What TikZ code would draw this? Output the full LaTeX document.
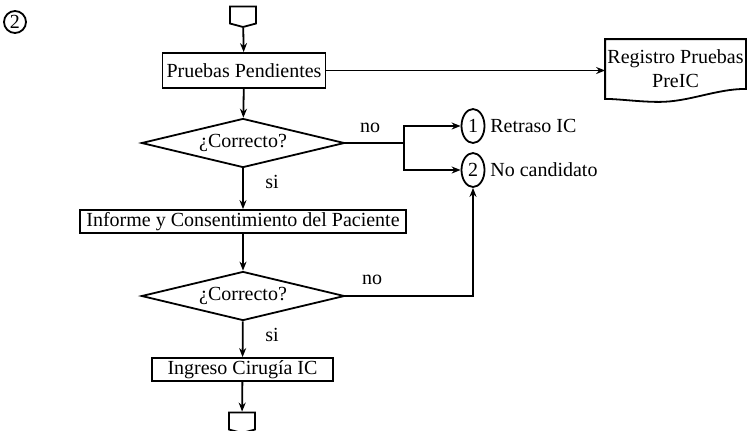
\documentclass[tikz,border=0pt]{standalone}
\usepackage{fontspec}
\setmainfont{Liberation Serif}
\usetikzlibrary{arrows.meta}
\usetikzlibrary{positioning}
\usetikzlibrary{shapes.geometric}
\usetikzlibrary{shapes.symbols}

\tikzset{
    proceso/.style={draw, rectangle, inner xsep=2pt, inner ysep=1pt},
    decision/.style={draw, diamond, aspect=4, inner sep=0pt, minimum width=101.5pt, minimum height=24.5pt},
    conector/.style={draw, signal, signal to=south, signal pointer angle=150, inner sep=0pt, minimum width=13pt, minimum height=8.5pt},
    salida/.style={draw, ellipse, inner sep=0pt, minimum width=11.5pt, minimum height=17pt},
}

\begin{document}
\begin{tikzpicture}[x=0.5pt, y=-0.5pt, line width=0.9pt, >={Stealth[length=4.5pt, width=3.5pt]}]
        \useasboundingbox (0, 0) rectangle (747, 430);

        \node [draw, circle, inner sep=0.5pt, minimum size=11pt] (num) at (15, 22) {2};

        \node [conector] (ini) at (243, 15) {};
        \node [proceso, minimum width=78.5pt, minimum height=17.5pt] (pend) at (244, 70.5) {Pruebas Pendientes};
        \node [rectangle, align=center, inner sep=0pt, minimum width=69.5pt, minimum height=29pt] (reg) at (675.5, 69) {Registro Pruebas\\PreIC};
        \draw (reg.north west) -- (reg.north east) -- ([shift={(0, -10)}]reg.south east)
            .. controls +(-30, 0) and +(30, 0) .. ([shift={(54, 3)}]reg.south west)
            .. controls +(-20, 0) and +(14, 0) .. (reg.south west) -- cycle;

        \node [decision] (dec1) at (243, 143) {¿Correcto?};
        \coordinate (j1) at (404, 143);
        \node [salida] (sal1) at (473, 126) {1};
        \node [salida] (sal2) at (473, 170) {2};
        \node [right=0pt of sal1, inner xsep=2pt] (ret) {Retraso IC};
        \node [right=0pt of sal2, inner xsep=2pt] (noc) {No candidato};
        \node (no1) at (370, 128) {no};
        \node (si1) at (272, 182) {si};

        \node [proceso, minimum width=163pt, minimum height=11.5pt] (inf) at (243, 221.5) {Informe y Consentimiento del Paciente};

        \node [decision] (dec2) at (243, 296) {¿Correcto?};
        \node (no2) at (372, 280) {no};
        \node (si2) at (272, 335) {si};

        \node [proceso, minimum width=90.5pt, minimum height=11.5pt] (ing) at (242.5, 369.5) {Ingreso Cirugía IC};
        \node [conector] (fin) at (242, 421) {};

        \draw [->] (ini) -- (pend);
        \draw [->] (pend.east) -- (pend.east -| reg.west);
        \draw [->] (pend) -- (dec1);
        \draw (dec1.east) -- (j1);
        \draw [->] (j1) |- (sal1);
        \draw [->] (j1) |- (sal2);
        \draw [->] (dec1) -- (inf);
        \draw [->] (inf) -- (dec2);
        \draw [->] (dec2.east) -| (sal2);
        \draw [->] (dec2) -- (ing);
        \draw [->] (ing) -- (fin);
\end{tikzpicture}
\end{document}
